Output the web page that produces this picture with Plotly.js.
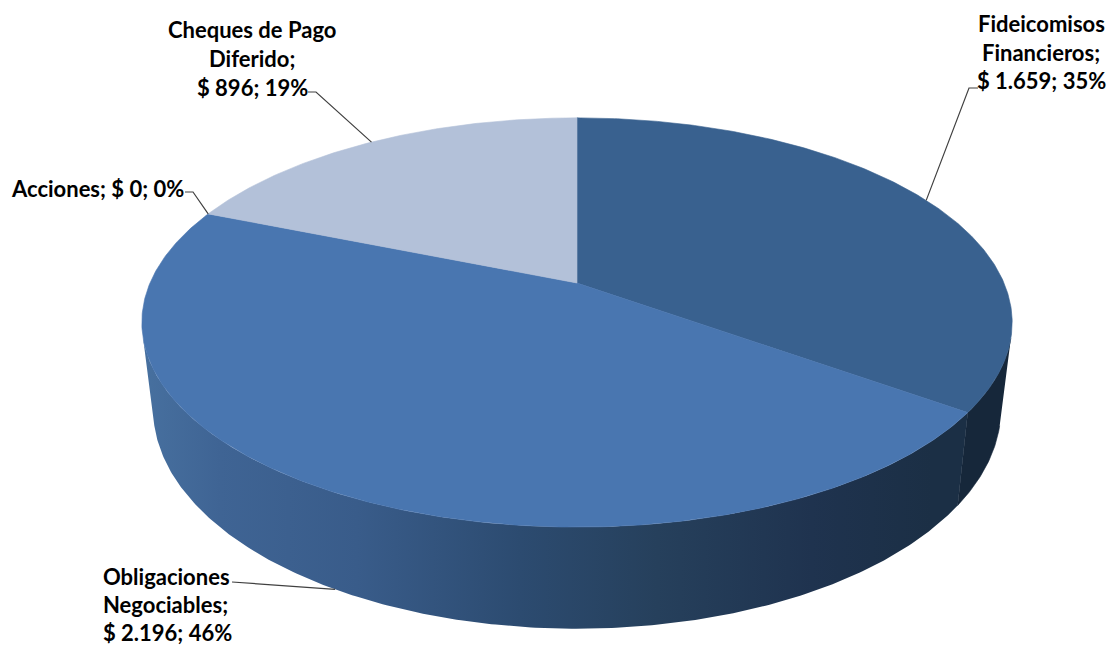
<!DOCTYPE html>
<html><head><meta charset="utf-8">
<script src="https://cdn.plot.ly/plotly-3.0.1.min.js"></script>
<style>html,body{margin:0;padding:0;background:#fff}</style></head>
<body><div id="chart" style="width:1110px;height:647px"></div>
<script>
// Data, in drawing order, clockwise from the top of the pie
const categories = ['Fideicomisos Financieros', 'Obligaciones Negociables', 'Acciones', 'Cheques de Pago Diferido'];
const values = [1659, 2196, 0, 896];
const labelNames = [['Fideicomisos', 'Financieros;'], ['Obligaciones', 'Negociables;'], ['Acciones;'], ['Cheques de Pago', 'Diferido;']];
const faceColors = ['#39618f', '#4976b0', '#4976b0', '#b3c1d9'];

// Perspective of the pie's top and bottom discs
const W = 1110, H = 647;
const topDisc = {cx: 577, cy: 283, A: 427, B: 197, k: 0.193};
const botDisc = {cx: 577, cy: 366, A: 416, B: 212, k: 0.193};
const silhouetteDeg = 105.5;
const sideDark = '#16273a';
const sideScale = [[0, '#47709f'], [0.09, '#3f6494'], [0.25, '#395c8a'], [0.44, '#2c4b70'], [0.6, '#26405c'], [0.78, '#1f334f'], [0.92, '#1b2f45'], [1, '#1b2f45']];

// Label placement
const labelPos = [
  {x: 1041, anchor: 'center', ys: [23, 52, 80], side: 'top', path: [[969, 88], [978, 88]]},
  {x: 102, anchor: 'left', ys: [576, 604, 632], side: 'bottom', path: [[232, 582]]},
  {x: 10, anchor: 'left', ys: [188], side: 'edge', path: [[193, 192], [185, 192]]},
  {x: 252, anchor: 'center', ys: [29, 58, 87], side: 'top', path: [[316, 92], [308, 92]]}
];

function pt(d, deg) {
  const r = deg * Math.PI / 180, s = Math.sin(r), c = Math.cos(r), w = 1 + d.k * c;
  return [d.cx + d.A * s / w, d.cy - d.B * c / w];
}
function arc(d, a0, a1) {
  const n = Math.max(2, Math.ceil(Math.abs(a1 - a0)) * 2), out = [];
  for (let i = 0; i <= n; i++) out.push(pt(d, a0 + (a1 - a0) * i / n));
  return out;
}
function poly(points, color, extra) {
  return Object.assign({
    type: 'scatter', mode: 'lines', x: points.map(p => p[0]), y: points.map(p => p[1]),
    fill: 'toself', fillcolor: color, line: {color: color, width: 0.6}, hoverinfo: 'skip', showlegend: false
  }, extra || {});
}
const total = values.reduce((a, b) => a + b, 0);
let acc = 0;
const slices = values.map(v => { const s = acc; acc += v; return [s / total * 360, acc / total * 360]; });

const traces = [];
// Side wall: dark section of the first slice, then gradient to the left silhouette
const firstEnd = slices[0][1];
traces.push(poly(arc(topDisc, silhouetteDeg, firstEnd).concat(arc(botDisc, firstEnd, silhouetteDeg)), sideDark));
const wall = arc(topDisc, firstEnd, 360 - silhouetteDeg).concat(arc(botDisc, 360 - silhouetteDeg, firstEnd));
traces.push({
  type: 'scatter', mode: 'lines', x: wall.map(p => p[0]), y: wall.map(p => p[1]), fill: 'toself',
  fillgradient: {type: 'horizontal', colorscale: sideScale, start: 143, stop: 1000},
  line: {width: 0}, hoverinfo: 'skip', showlegend: false
});
// Top faces
slices.forEach((s, i) => {
  if (values[i] === 0) return;
  const pts = [[topDisc.cx, topDisc.cy]].concat(arc(topDisc, s[0], s[1]));
  pts.push([topDisc.cx, topDisc.cy]);
  traces.push(poly(pts, faceColors[i], {name: categories[i]}));
});
// Leader lines
slices.forEach((s, i) => {
  const mid = (s[0] + s[1]) / 2, p = labelPos[i];
  const start = pt(p.side === 'bottom' ? botDisc : topDisc, mid);
  const pts = [start].concat(p.path);
  traces.push({type: 'scatter', mode: 'lines', x: pts.map(q => q[0]), y: pts.map(q => q[1]),
    line: {color: '#404040', width: 1.2}, hoverinfo: 'skip', showlegend: false});
});
// Labels
const money = v => '$ ' + String(v).replace(/\B(?=(\d{3})+$)/g, '.');
const annotations = [];
labelNames.forEach((names, i) => {
  const tail = money(values[i]) + '; ' + Math.round(values[i] / total * 100) + '%';
  const lines = names.length === 1 ? [names[0] + ' ' + tail] : names.concat(tail);
  lines.forEach((t, j) => annotations.push({
    text: '<b>' + t + '</b>', x: labelPos[i].x, y: labelPos[i].ys[j], xref: 'x', yref: 'y',
    xanchor: labelPos[i].anchor, yanchor: 'middle', showarrow: false, borderpad: 0,
    font: {family: 'Lato, sans-serif', size: 22, color: '#000'}
  }));
});
Plotly.newPlot('chart', traces, {
  width: W, height: H, margin: {l: 0, r: 0, t: 0, b: 0}, paper_bgcolor: '#fff', plot_bgcolor: '#fff', showlegend: false,
  xaxis: {range: [0, W], visible: false, fixedrange: true},
  yaxis: {range: [H, 0], visible: false, fixedrange: true},
  annotations: annotations
}, {displayModeBar: false, staticPlot: true});
</script></body></html>
